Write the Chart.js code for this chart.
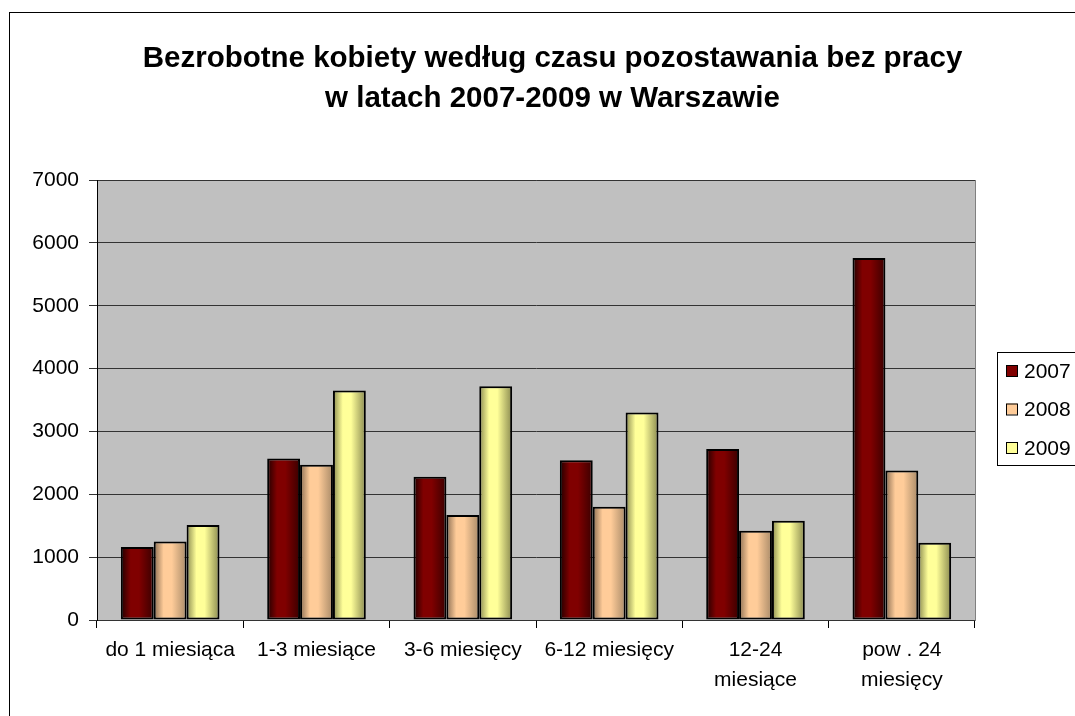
<!DOCTYPE html>
<html>
<head>
<meta charset="utf-8">
<script src="https://cdn.jsdelivr.net/npm/chart.js@4/dist/chart.umd.min.js"></script>
<style>
html, body { margin: 0; padding: 0; background: #fff; }
#wrap { width: 1075px; height: 716px; }
</style>
</head>
<body>
<div id="wrap"><canvas id="chart"></canvas></div>
<script>
const categories = ["do 1 miesiąca", "1-3 miesiące", "3-6 miesięcy", "6-12 miesięcy", ["12-24", "miesiące"], ["pow . 24", "miesięcy"]];
const years = ["2007", "2008", "2009"];
const values2007 = [1160, 2570, 2280, 2540, 2720, 5760];
const values2008 = [1250, 2470, 1670, 1800, 1420, 2380];
const values2009 = [1510, 3650, 3720, 3300, 1580, 1230];
const yMax = 7000;
const yStep = 1000;

const FONT = "'Liberation Sans', Arial, sans-serif";
const CAT_PCT = 0.674;

// base colour, dark left edge, dark right edge
const barShades = [
    ["#800000", "#200000", "#3a0000"],
    ["#ffcc99", "#8a6d52", "#a88a68"],
    ["#ffff99", "#8a8a50", "#8a8a50"]
];

function barGradient(ctx) {
    const chart = ctx.chart;
    const x = chart.scales.x;
    const shade = barShades[ctx.datasetIndex];
    if (!x || ctx.dataIndex === undefined) return shade[0];
    const catW = x.width / categories.length;
    const barW = catW * CAT_PCT / years.length;
    const center = x.getPixelForValue(ctx.dataIndex) + (ctx.datasetIndex - 1) * barW;
    if (!isFinite(center) || !isFinite(barW) || barW <= 0) return shade[0];
    const g = chart.ctx.createLinearGradient(center - barW / 2, 0, center + barW / 2, 0);
    g.addColorStop(0, shade[1]);
    g.addColorStop(0.3, shade[0]);
    g.addColorStop(0.55, shade[0]);
    g.addColorStop(1, shade[2]);
    return g;
}

const frame = {
    id: "frame",
    beforeDraw(chart) {
        const c = chart.ctx;
        const a = chart.chartArea;
        c.save();
        c.fillStyle = "#c0c0c0";
        c.fillRect(a.left, a.top, a.right - a.left, a.bottom - a.top);
        c.strokeStyle = "#808080";
        c.lineWidth = 1;
        c.strokeRect(a.left + 0.5, a.top + 0.5, a.right - a.left, a.bottom - a.top);
        c.strokeStyle = "#000";
        c.strokeRect(9.5, 12.5, 1200, 800);
        c.restore();
    },
    afterDraw(chart) {
        // legend box to the right of the plot
        const c = chart.ctx;
        c.save();
        c.strokeStyle = "#000";
        c.lineWidth = 1;
        c.strokeRect(997.5, 352.5, 200, 113);
        c.font = "21px " + FONT;
        c.textBaseline = "middle";
        years.forEach((y, i) => {
            const cy = 371 + i * 38.5;
            c.fillStyle = barShades[i][0];
            c.fillRect(1006, cy - 6, 11, 11);
            c.strokeRect(1006.5, cy - 5.5, 11, 11);
            c.fillStyle = "#000";
            c.fillText(y, 1024, cy + 1);
        });
        c.restore();
    }
};

const ctx = document.getElementById("chart").getContext("2d");
new Chart(ctx, {
    type: "bar",
    data: {
        labels: categories,
        datasets: [
            { label: years[0], data: values2007 },
            { label: years[1], data: values2008 },
            { label: years[2], data: values2009 }
        ].map(ds => Object.assign(ds, {
            backgroundColor: barGradient,
            borderColor: "#000",
            borderWidth: 2,
            borderSkipped: false,
            categoryPercentage: CAT_PCT,
            barPercentage: 1
        }))
    },
    options: {
        responsive: true,
        maintainAspectRatio: false,
        animation: false,
        layout: { padding: { left: 30, right: 0, top: 0, bottom: 0 } },
        plugins: {
            legend: { display: false },
            tooltip: { enabled: false },
            title: {
                display: true,
                text: ["Bezrobotne kobiety według czasu pozostawania bez pracy", "w latach 2007-2009 w Warszawie"],
                color: "#000",
                font: { family: FONT, size: 29.5, weight: "bold", lineHeight: 1.356 },
                padding: { top: 39, bottom: 61 }
            }
        },
        scales: {
            x: {
                offset: true,
                grid: { offset: true, drawOnChartArea: false, drawTicks: true, tickLength: 8, color: "#000" },
                border: { display: false },
                ticks: { color: "#000", padding: 7, maxRotation: 0, autoSkip: false, font: { family: FONT, size: 21, lineHeight: 1.43 } },
                afterFit(scale) { scale.height = 96; }
            },
            y: {
                min: 0,
                max: yMax,
                grid: { color: "#333", tickLength: 8, drawTicks: true },
                border: { display: true, color: "#000" },
                ticks: {
                    stepSize: yStep, color: "#000", padding: 10,
                    font: { family: FONT, size: 21 },
                    callback: v => String(v)
                },
                afterFit(scale) { scale.width = 67; }
            },
            // empty box that keeps room for the legend on the right
            legendSpace: {
                type: "linear",
                position: "right",
                display: true,
                grid: { display: false },
                border: { display: false },
                ticks: { display: false },
                afterFit(scale) { scale.width = 100; }
            }
        }
    },
    plugins: [frame]
});
</script>
</body>
</html>
